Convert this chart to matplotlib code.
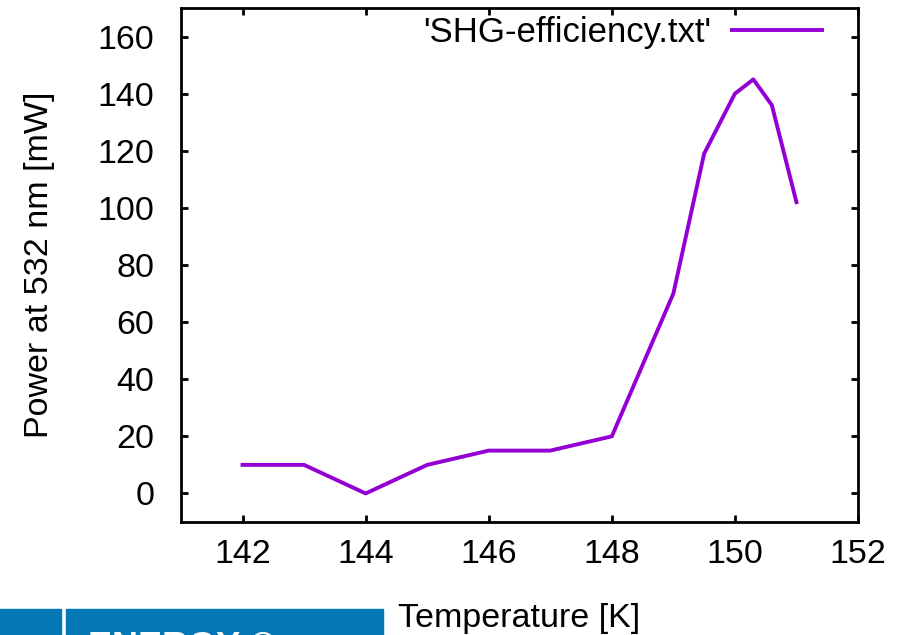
import matplotlib.pyplot as plt
from matplotlib.patches import Rectangle

plt.rcParams['font.family'] = ['Liberation Sans', 'DejaVu Sans']

# SHG power vs crystal temperature
temperature = [142, 143, 144, 145, 146, 147, 148, 149, 149.5, 150, 150.3, 150.6, 151]
power = [10, 10, 0, 10, 15, 15, 20, 70, 119, 140, 145, 136, 102]

LINE_COLOR = '#9400D3'
FS = 24.5

fig = plt.figure(figsize=(9, 6.35), dpi=100)
ax = fig.add_axes([181 / 900, 1 - 522 / 635, 677 / 900, 514 / 635])

ax.plot(temperature, power, color=LINE_COLOR, linewidth=2.8,
        label="'SHG-efficiency.txt'")

ax.set_xlim(141, 152)
ax.set_ylim(-10, 170)
ax.set_xticks(range(142, 153, 2))
ax.set_yticks(range(0, 161, 20))

for s in ax.spines.values():
    s.set_linewidth(2)
ax.tick_params(direction='in', length=5, width=2, labelsize=FS,
               top=True, right=True)
ax.tick_params(axis='x', pad=12)
ax.tick_params(axis='y', pad=19)

ax.set_ylabel('Power at 532 nm [mW]', fontsize=FS, labelpad=31)
ax.set_xlabel('Temperature [K]', fontsize=FS, labelpad=24)

ax.legend(loc='upper right', bbox_to_anchor=(0.9468, 0.984), frameon=False,
          fontsize=25, markerfirst=False, handlelength=2.6,
          handletextpad=0.6, borderaxespad=0, borderpad=0)

# footer banner, cut off at the bottom edge
blue = '#0477B5'
fig.patches.append(Rectangle((0, 0), 61.5 / 900, 26 / 635,
                             transform=fig.transFigure, color=blue))
fig.patches.append(Rectangle((66 / 900, 0), 317 / 900, 26 / 635,
                             transform=fig.transFigure, color=blue))
fig.text(88 / 900, 1 - 631.5 / 635, 'ENERGY ©', color='white',
         fontsize=26, fontweight='bold', va='top', ha='left')

plt.savefig('out.png', dpi=100)
